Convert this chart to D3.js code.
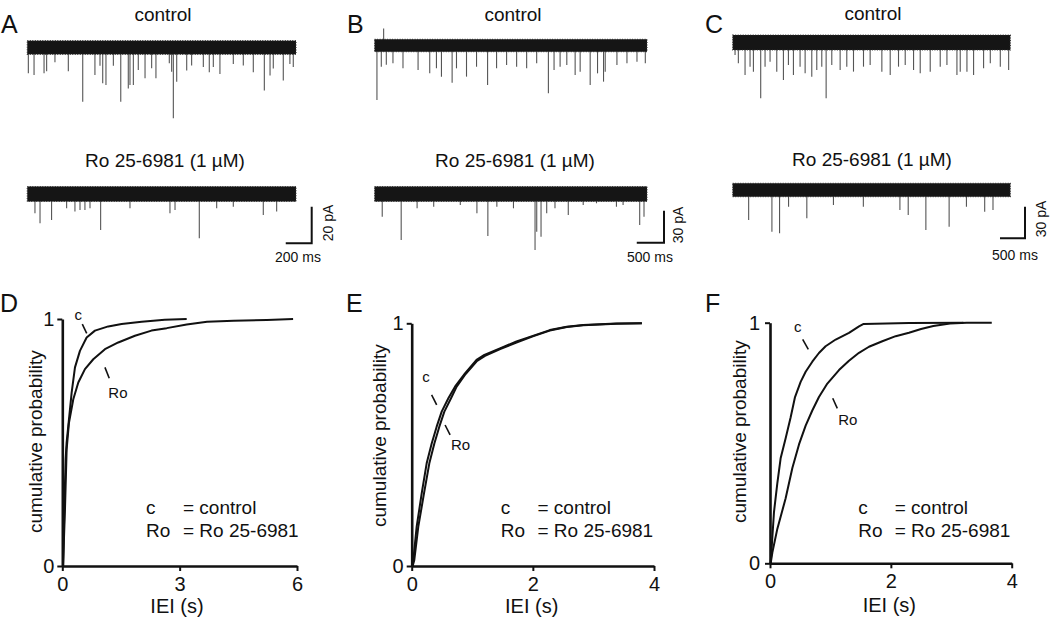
<!DOCTYPE html>
<html><head><meta charset="utf-8">
<script src="https://cdn.jsdelivr.net/npm/d3@7"></script>
<style>
body{margin:0;background:#fff;}
svg{display:block;}
</style></head><body>
<svg id="fig" width="1050" height="620"></svg>
<script>
// ================= DATA =================
const panelLetters = ["A", "B", "C", "D", "E", "F"];
const traceTitles = ["control", "Ro 25-6981 (1 µM)"];
const traceDurations = [2070, 5000, 5550];          // ms, panels A, B, C
const scaleBarTime = [200, 500, 500];               // ms
const scaleBarCurrent = [20, 30, 30];               // pA
const noiseControl = [3.7, 5.8, 7.1];               // half-width of baseline noise, pA
const noiseRo = [4.1, 7.0, 6.3];

// spontaneous events [time ms, amplitude pA]
const spikesA_control = [[8,-14],[52,-15],[129,-14],[149,-13],[213,-8],[316,-13],[427,-29.6],[521,-15],[560,-10],[581,-19.5],[606,-20.5],[663,-10],[720,-29.6],[778,-22.3],[791,-20.5],[817,-20.5],[855,-12.3],[907,-16.8],[958,-11.3],[991,-16.8],[1094,-8.6],[1112,-13.2],[1125,-38.6],[1151,-18.7],[1228,-12.5],[1266,-9.8],[1356,-10.7],[1402,-13.5],[1433,-10.7],[1484,-14.4],[1587,-9],[1664,-9.8],[1741,-13.5],[1826,-23.5],[1870,-15.3],[1895,-11.5],[1972,-18],[2023,-9],[2049,-10.7]];
const spikesA_ro = [[59,-10.5],[98,-16],[187,-14.2],[303,-7.8],[367,-9.6],[406,-8.7],[444,-8.7],[483,-7.8],[565,-19.6],[791,-7.8],[1099,-10.5],[1138,-8.7],[1325,-24.2],[1459,-7.8],[1587,-7],[1818,-11.5],[1921,-9.6]];
const spikesB_control = [[166,16],[43,-51],[123,-20],[215,-18],[337,-16.7],[521,-21.4],[798,-23],[1012,-26.1],[1135,-21.4],[1227,-29.2],[1423,-34.9],[1503,-21.4],[1687,-29.2],[1871,-19.9],[2074,-37],[2239,-21.4],[2423,-18.3],[2607,-19.9],[2791,-21.4],[2975,-16.7],[3190,-44.8],[3294,-23],[3405,-19.9],[3528,-18.3],[3681,-27.7],[3773,-24.6],[3957,-37],[4092,-26.1],[4202,-33.9],[4233,-24.6],[4448,-18.3],[4632,-16.7],[4816,-15.2],[4969,-16.7]];
const spikesB_ro = [[140,-21.3],[488,-43.1],[780,-13.4],[1085,-11.9],[1573,-10.3],[1878,-18.1],[2079,-39.4],[2244,-11.9],[2549,-13.4],[2945,-52.5],[2976,-35.3],[3055,-40],[3159,-18.1],[3311,-13.4],[3555,-19.7],[3829,-10.3],[4073,-8.7],[4439,-11.9],[4561,-10.3],[4866,-29.1],[4945,-21.3]];
const spikesC_control = [[47,-11.8],[113,-19.7],[247,-30.8],[347,-22.9],[414,-27.6],[560,-52.9],[647,-22.9],[747,-18.2],[881,-27.6],[1014,-35.5],[1114,-21.3],[1214,-30.8],[1347,-22.9],[1448,-29.2],[1581,-32.4],[1681,-26],[1781,-22.9],[1868,-52.9],[1981,-21.3],[2148,-26],[2281,-22.9],[2415,-27.6],[2615,-22.9],[2748,-21.3],[2982,-27.6],[3149,-30.8],[3315,-22.9],[3449,-21.3],[3616,-26],[3749,-29.2],[3949,-27.6],[4149,-22.9],[4283,-21.3],[4483,-30.8],[4549,-27.6],[4683,-27.6],[4816,-30.8],[5016,-24.5],[5150,-19.7],[5350,-22.9],[5517,-26]];
const spikesC_ro = [[319,-28.4],[784,-39.5],[937,-41],[1117,-15.8],[1482,-26.8],[2014,-14.2],[2612,-15.8],[3343,-18.9],[3509,-23.7],[3862,-37.9],[4327,-34.8],[4673,-15.8],[5038,-20.5],[5204,-18.9]];

// cumulative probability of inter-event interval [IEI s, probability]
const cdfD_control = [[0,0],[0.02,0],[0.035,0.1],[0.051,0.228],[0.085,0.431],[0.11,0.5],[0.153,0.566],[0.239,0.702],[0.324,0.804],[0.451,0.871],[0.622,0.925],[0.835,0.953],[1.175,0.970],[1.516,0.98],[2.03,0.989],[2.62,0.997],[3.18,1.0]];
const cdfD_ro = [[0,0],[0.02,0],[0.04,0.1],[0.068,0.228],[0.111,0.472],[0.17,0.58],[0.281,0.675],[0.409,0.743],[0.579,0.797],[0.792,0.837],[1.09,0.878],[1.43,0.905],[1.857,0.932],[2.28,0.953],[2.67,0.963],[3.18,0.978],[3.7,0.989],[4.38,0.993],[5.23,0.996],[5.9,1.0]];
const cdfE_control = [[0,0],[0.016,0],[0.027,0.025],[0.082,0.162],[0.165,0.299],[0.247,0.423],[0.33,0.505],[0.412,0.574],[0.495,0.636],[0.605,0.691],[0.715,0.739],[0.88,0.794],[1.07,0.849],[1.2,0.87],[1.457,0.897],[1.73,0.925],[2.0,0.948],[2.28,0.972],[2.56,0.986],[2.83,0.993],[3.38,0.999],[3.8,1.0]];
const cdfE_ro = [[0,0],[0.016,0],[0.043,0.025],[0.109,0.162],[0.203,0.299],[0.291,0.423],[0.374,0.505],[0.456,0.574],[0.539,0.636],[0.649,0.691],[0.742,0.739],[0.89,0.791],[1.08,0.845],[1.21,0.866],[1.46,0.894],[1.74,0.922],[2.0,0.946],[2.28,0.970],[2.56,0.985],[2.83,0.992],[3.38,0.998],[3.8,1.0]];
const cdfF_control = [[0,0],[0.011,0],[0.066,0.213],[0.12,0.33],[0.177,0.438],[0.259,0.52],[0.342,0.607],[0.414,0.691],[0.507,0.754],[0.59,0.796],[0.70,0.838],[0.81,0.874],[0.92,0.902],[1.087,0.93],[1.307,0.958],[1.473,0.985],[1.55,0.995],[2.3,0.999],[3.2,1.0]];
const cdfF_ro = [[0,0],[0.011,0],[0.039,0.045],[0.121,0.143],[0.259,0.27],[0.37,0.396],[0.48,0.494],[0.59,0.572],[0.70,0.635],[0.81,0.691],[0.949,0.747],[1.142,0.803],[1.307,0.842],[1.473,0.875],[1.638,0.9],[1.859,0.923],[2.08,0.944],[2.3,0.958],[2.5,0.974],[2.703,0.986],[2.979,0.997],[3.255,1.0],[3.67,1.0]];

const xMaxBottom = [6, 4, 4];
const xTicksD = [0, 3, 6];
const xTicksE = [0, 2, 4];
const xTicksF = [0, 2, 4];
const yTicks = [0, 1];
const xAxisTitle = "IEI (s)";
const yAxisTitle = "cumulative probability";
const legendKeys = ["c", "Ro"];
const legendLabels = ["= control", "= Ro 25-6981"];
// annotation pointers [label x, label y, line x1, y1, x2, y2] in data units
const annotD = {c:[0.41,0.994,0.511,0.979,0.624,0.942], ro:[1.176,0.679,1.09,0.804,1.2,0.76]};
const annotE = {c:[0.236,0.757,0.329,0.705,0.412,0.664], ro:[0.649,0.478,0.551,0.581,0.634,0.54]};
const annotF = {c:[0.458,0.963,0.541,0.931,0.634,0.889], ro:[1.13,0.575,1.038,0.686,1.114,0.644]};

// ================= LAYOUT =================
const FONT = "'Liberation Sans', Arial, Helvetica, sans-serif";
const svg = d3.select("#fig").style("font-family", FONT);

const traceLayout = [
  {letterX:1,   x0:27.3,  x1:296,    ctrlBase:47.5, roBase:194, pxPerPA:1.833,  titleCx:[163,165], titleY:[20.5,166.5], bar:[311.7,243.3], tLab:[298,262],   iLab:[333,223]},
  {letterX:347, x0:374.6, x1:647,    ctrlBase:45.5, roBase:194, pxPerPA:1.0667, titleCx:[513,515], titleY:[20.5,166.5], bar:[664,242.7],   tLab:[650,261.7], iLab:[683,225]},
  {letterX:705, x0:732.7, x1:1010.3, ctrlBase:42.5, roBase:190, pxPerPA:1.0556, titleCx:[873,872], titleY:[19.5,166],   bar:[1025,238.3],  tLab:[1015,260],  iLab:[1046,219]}
];
const spikeSets = [[spikesA_control, spikesA_ro],[spikesB_control, spikesB_ro],[spikesC_control, spikesC_ro]];

const bottomLayout = [
  {letterX:0,   x0:62.3,  x1:297,    y0:566,   y1:319,   ticks:xTicksD, cdf:[cdfD_control, cdfD_ro], annot:annotD, yTitleX:42,    yTitleY:441.7, xTitleX:177,   xTitleY:613, legX:[146,183],   pad:3},
  {letterX:346, x0:411.7, x1:654,    y0:566,   y1:323.3, ticks:xTicksE, cdf:[cdfE_control, cdfE_ro], annot:annotE, yTitleX:385.5, yTitleY:435.7, xTitleX:531.7, xTitleY:613.3, legX:[500.7,537.5], pad:3},
  {letterX:705, x0:770,   x1:1011.7, y0:563.3, y1:322.7, ticks:xTicksF, cdf:[cdfF_control, cdfF_ro], annot:annotF, yTitleX:746,   yTitleY:431.7, xTitleX:889.3, xTitleY:611.7, legX:[858.3,894.7], pad:5}
];

// ================= TRACES (A-C) =================
traceLayout.forEach((L, i) => {
  const g = svg.append("g");
  g.append("text").attr("x", L.letterX).attr("y", 33.3).attr("font-size", 25).attr("fill", "#111").text(panelLetters[i]);
  const xs = d3.scaleLinear().domain([0, traceDurations[i]]).range([L.x0, L.x1]);
  [0, 1].forEach(k => {
    const base = k === 0 ? L.ctrlBase : L.roBase;
    const ys = d3.scaleLinear().domain([0, -1]).range([base, base + L.pxPerPA]);
    const noise = k === 0 ? noiseControl[i] : noiseRo[i];
    g.append("text").attr("x", L.titleCx[k]).attr("y", L.titleY[k]).attr("text-anchor", "middle")
      .attr("font-size", 19).attr("fill", "#111").text(traceTitles[k]);
    // events
    g.append("g").selectAll("line").data(spikeSets[i][k]).join("line")
      .attr("x1", d => xs(d[0])).attr("x2", d => xs(d[0]))
      .attr("y1", ys(0)).attr("y2", d => ys(d[1]))
      .attr("stroke", "#555").attr("stroke-width", 1.1);
    // baseline noise band
    const area = d3.area().x(d => xs(d)).y0(ys(-noise)).y1(ys(noise));
    g.append("path").attr("d", area([0, traceDurations[i]])).attr("fill", "#151515");
    g.append("path").attr("d", area([0, traceDurations[i]])).attr("fill", "none")
      .attr("stroke", "#333").attr("stroke-width", 1.2).attr("stroke-dasharray", "1,1.5");
    // scale bar (uses the Ro trace's scales)
    if (k === 1) {
      const lenT = xs(scaleBarTime[i]) - xs(0);
      const lenI = ys(-scaleBarCurrent[i]) - ys(0);
      const [bx, by] = L.bar;
      g.append("path").attr("d", d3.line()([[bx - lenT, by], [bx, by], [bx, by - lenI]]))
        .attr("fill", "none").attr("stroke", "#111").attr("stroke-width", 2);
      g.append("text").attr("x", L.tLab[0]).attr("y", L.tLab[1]).attr("text-anchor", "middle")
        .attr("font-size", 14).attr("fill", "#111").text(scaleBarTime[i] + " ms");
      g.append("text").attr("transform", `translate(${L.iLab[0]},${L.iLab[1]}) rotate(-90)`)
        .attr("text-anchor", "middle").attr("font-size", 14).attr("fill", "#111").text(scaleBarCurrent[i] + " pA");
    }
  });
});

// ================= CDF PANELS (D-F) =================
bottomLayout.forEach((L, i) => {
  const g = svg.append("g");
  g.append("text").attr("x", L.letterX).attr("y", 312).attr("font-size", 25).attr("fill", "#111").text(panelLetters[i + 3]);
  const xs = d3.scaleLinear().domain([0, xMaxBottom[i]]).range([L.x0, L.x1]);
  const ys = d3.scaleLinear().domain([0, 1]).range([L.y0, L.y1]);

  const yAx = g.append("g").attr("transform", `translate(${L.x0},0)`)
    .call(d3.axisLeft(ys).tickValues(yTicks).tickFormat(d3.format("d")).tickSize(5).tickSizeOuter(0).tickPadding(L.pad));
  const xAx = g.append("g").attr("transform", `translate(0,${L.y0})`)
    .call(d3.axisBottom(xs).tickValues(L.ticks).tickFormat(d3.format("d")).tickSize(5).tickSizeOuter(0).tickPadding(6));
  [yAx, xAx].forEach(a => {
    a.attr("font-family", FONT).attr("font-size", 20);
    a.select(".domain").attr("stroke", "#111").attr("stroke-width", 2.6);
    a.selectAll(".tick line").attr("stroke", "#111").attr("stroke-width", 2);
    a.selectAll(".tick text").attr("fill", "#111");
  });

  g.append("text").attr("transform", `translate(${L.yTitleX},${L.yTitleY}) rotate(-90)`)
    .attr("text-anchor", "middle").attr("font-size", 19).attr("fill", "#111").text(yAxisTitle);
  g.append("text").attr("x", L.xTitleX).attr("y", L.xTitleY).attr("text-anchor", "middle")
    .attr("font-size", 20).attr("fill", "#111").text(xAxisTitle);

  const line = d3.line().x(d => xs(d[0])).y(d => ys(d[1]));
  L.cdf.forEach(series => {
    g.append("path").attr("d", line(series)).attr("fill", "none")
      .attr("stroke", "#111").attr("stroke-width", 2).attr("stroke-linejoin", "round");
  });

  // pointers
  const A = L.annot;
  [["c", A.c, "middle"], ["Ro", A.ro, "start"]].forEach(([lab, a, anchor]) => {
    g.append("text").attr("x", xs(a[0])).attr("y", ys(a[1])).attr("text-anchor", anchor)
      .attr("font-size", 15).attr("fill", "#111").text(lab);
    g.append("line").attr("x1", xs(a[2])).attr("y1", ys(a[3])).attr("x2", xs(a[4])).attr("y2", ys(a[5]))
      .attr("stroke", "#111").attr("stroke-width", 1.6);
  });

  // legend
  legendKeys.forEach((k, j) => {
    const y = 514 + j * 22.5;
    g.append("text").attr("x", L.legX[0]).attr("y", y).attr("font-size", 19).attr("fill", "#111").text(k);
    g.append("text").attr("x", L.legX[1]).attr("y", y).attr("font-size", 19).attr("fill", "#111").text(legendLabels[j]);
  });
});
</script>
</body></html>
